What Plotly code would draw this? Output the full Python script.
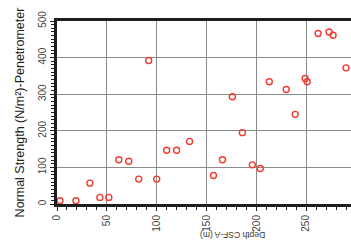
import plotly.graph_objects as go

depth = [3, 19, 33, 43, 52, 62, 72, 82, 92, 100, 110, 120, 133, 157, 166, 176,
         186, 196, 204, 213, 230, 239, 249, 251, 262, 273, 277, 290]
strength = [9, 9, 57, 18, 18, 121, 117, 68, 392, 68, 147, 147, 171, 78, 121, 293,
            195, 107, 97, 334, 313, 245, 343, 334, 466, 470, 461, 372]

x_ticks = [0, 50, 100, 150, 200, 250]
y_ticks = [0, 100, 200, 300, 400, 500]

x_title = "Depth CSF-A (m)"
y_title = "Normal Strength (N/m²)-Penetrometer"

fig = go.Figure()
fig.add_trace(go.Scatter(
    x=depth, y=strength, mode="markers",
    marker=dict(symbol="circle-open", size=6, color="#f23a2e",
                line=dict(width=1.4, color="#f23a2e")),
    showlegend=False, cliponaxis=False,
))

fig.update_layout(
    template="none",
    width=351, height=250,
    margin=dict(l=57, r=0, t=21, b=46),
    paper_bgcolor="white", plot_bgcolor="rgba(0,0,0,0)",
    font=dict(family="Liberation Sans, Arial, sans-serif", color="#444"),
    xaxis=dict(
        range=[0, 295], tickvals=x_ticks, automargin=False,
        showgrid=True, gridcolor="#8a8a8a", gridwidth=1.2, zeroline=False,
        showline=True, linecolor="#1e1e1e", linewidth=3, mirror=True,
        ticks="outside", ticklen=4, tickwidth=1, tickcolor="#1e1e1e",
        minor=dict(dtick=10, tick0=0, ticks="outside", ticklen=3, tickcolor="#1e1e1e", showgrid=False),
        tickangle=-90, tickfont=dict(size=10, color="#444"),
    ),
    yaxis=dict(
        range=[0, 500], tickvals=y_ticks, automargin=False,
        showgrid=True, gridcolor="#8a8a8a", gridwidth=1.2, zeroline=False,
        showline=True, linecolor="#1e1e1e", linewidth=3, mirror=False,
        ticks="outside", ticklen=4, tickwidth=1, tickcolor="#1e1e1e",
        minor=dict(dtick=10, tick0=0, ticks="outside", ticklen=3, tickcolor="#1e1e1e", showgrid=False),
        tickangle=-90, tickfont=dict(size=10, color="#444"),
        title=dict(text=y_title, font=dict(size=12.5, color="#222"), standoff=10),
    ),
)

fig.add_annotation(
    text=x_title, xref="paper", yref="paper", x=0.599, y=-0.208,
    showarrow=False, textangle=180, font=dict(size=8.5, color="#333"),
)

fig.write_html("out.html", config={"displayModeBar": False},
               post_script="document.body.style.margin='0';")
